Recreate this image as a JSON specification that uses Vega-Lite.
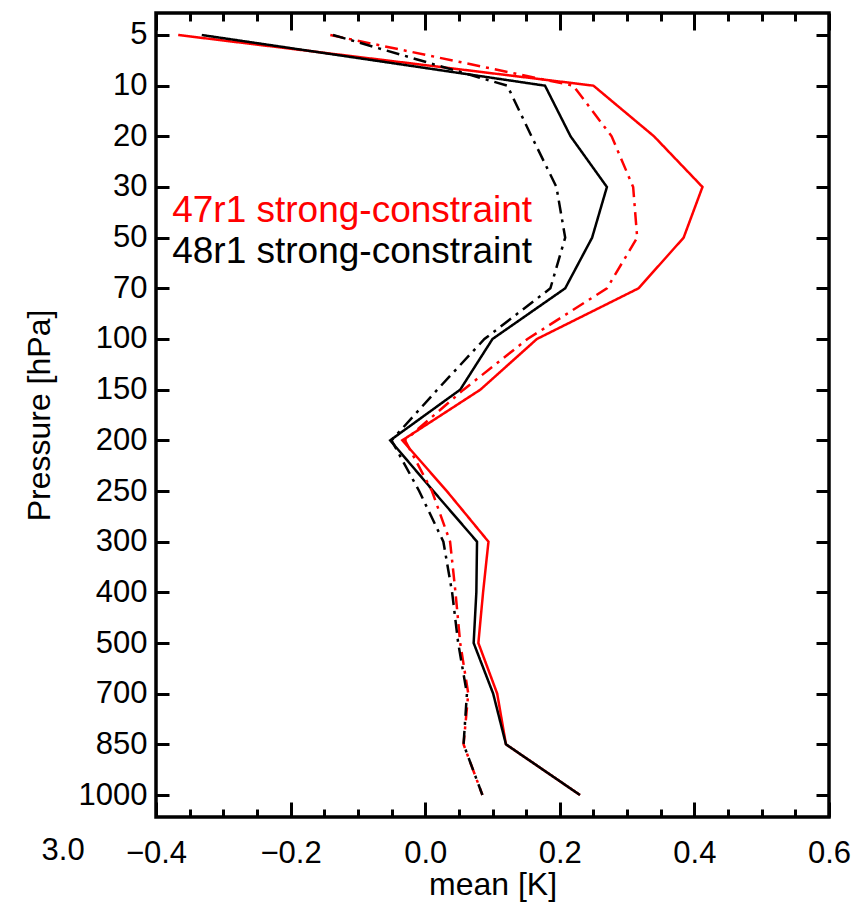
{
  "$schema": "https://vega.github.io/schema/vega-lite/v6.json",
  "width": 673,
  "height": 804,
  "autosize": {"type": "none"},
  "padding": {"left": 156, "top": 13, "right": 25, "bottom": 86},
  "background": "white",
  "config": {
    "view": {"stroke": "black", "strokeWidth": 3.5},
    "font": "Liberation Sans",
    "axis": {
      "domain": false, "grid": false, "zindex": 1,
      "labelFont": "Liberation Sans", "titleFont": "Liberation Sans",
      "labelColor": "black", "titleColor": "black", "tickColor": "black",
      "tickWidth": 3, "titleFontWeight": "normal", "labelFontSize": 31, "titleFontSize": 32
    }
  },
  "datasets": {
    "profiles": [
      {"model": "47r1", "style": "solid", "p": 5, "mean": -0.367},
      {"model": "47r1", "style": "solid", "p": 10, "mean": 0.25},
      {"model": "47r1", "style": "solid", "p": 20, "mean": 0.34},
      {"model": "47r1", "style": "solid", "p": 30, "mean": 0.412},
      {"model": "47r1", "style": "solid", "p": 50, "mean": 0.384},
      {"model": "47r1", "style": "solid", "p": 70, "mean": 0.317},
      {"model": "47r1", "style": "solid", "p": 100, "mean": 0.166},
      {"model": "47r1", "style": "solid", "p": 150, "mean": 0.082},
      {"model": "47r1", "style": "solid", "p": 200, "mean": -0.034},
      {"model": "47r1", "style": "solid", "p": 250, "mean": 0.032},
      {"model": "47r1", "style": "solid", "p": 300, "mean": 0.094},
      {"model": "47r1", "style": "solid", "p": 400, "mean": 0.086},
      {"model": "47r1", "style": "solid", "p": 500, "mean": 0.079},
      {"model": "47r1", "style": "solid", "p": 700, "mean": 0.107},
      {"model": "47r1", "style": "solid", "p": 850, "mean": 0.12},
      {"model": "47r1", "style": "solid", "p": 1000, "mean": 0.23},
      {"model": "48r1", "style": "solid", "p": 5, "mean": -0.332},
      {"model": "48r1", "style": "solid", "p": 10, "mean": 0.178},
      {"model": "48r1", "style": "solid", "p": 20, "mean": 0.216},
      {"model": "48r1", "style": "solid", "p": 30, "mean": 0.27},
      {"model": "48r1", "style": "solid", "p": 50, "mean": 0.248},
      {"model": "48r1", "style": "solid", "p": 70, "mean": 0.208},
      {"model": "48r1", "style": "solid", "p": 100, "mean": 0.1},
      {"model": "48r1", "style": "solid", "p": 150, "mean": 0.052},
      {"model": "48r1", "style": "solid", "p": 200, "mean": -0.052},
      {"model": "48r1", "style": "solid", "p": 250, "mean": 0.012},
      {"model": "48r1", "style": "solid", "p": 300, "mean": 0.077},
      {"model": "48r1", "style": "solid", "p": 400, "mean": 0.076},
      {"model": "48r1", "style": "solid", "p": 500, "mean": 0.072},
      {"model": "48r1", "style": "solid", "p": 700, "mean": 0.101},
      {"model": "48r1", "style": "solid", "p": 850, "mean": 0.12},
      {"model": "48r1", "style": "solid", "p": 1000, "mean": 0.23},
      {"model": "47r1", "style": "dash-dot", "p": 5, "mean": -0.141},
      {"model": "47r1", "style": "dash-dot", "p": 10, "mean": 0.22},
      {"model": "47r1", "style": "dash-dot", "p": 20, "mean": 0.277},
      {"model": "47r1", "style": "dash-dot", "p": 30, "mean": 0.309},
      {"model": "47r1", "style": "dash-dot", "p": 50, "mean": 0.315},
      {"model": "47r1", "style": "dash-dot", "p": 70, "mean": 0.27},
      {"model": "47r1", "style": "dash-dot", "p": 100, "mean": 0.152},
      {"model": "47r1", "style": "dash-dot", "p": 150, "mean": 0.057},
      {"model": "47r1", "style": "dash-dot", "p": 200, "mean": -0.03},
      {"model": "47r1", "style": "dash-dot", "p": 250, "mean": 0.01},
      {"model": "47r1", "style": "dash-dot", "p": 300, "mean": 0.037},
      {"model": "47r1", "style": "dash-dot", "p": 400, "mean": 0.045},
      {"model": "47r1", "style": "dash-dot", "p": 500, "mean": 0.052},
      {"model": "47r1", "style": "dash-dot", "p": 700, "mean": 0.064},
      {"model": "47r1", "style": "dash-dot", "p": 850, "mean": 0.057},
      {"model": "47r1", "style": "dash-dot", "p": 1000, "mean": 0.085},
      {"model": "48r1", "style": "dash-dot", "p": 5, "mean": -0.137},
      {"model": "48r1", "style": "dash-dot", "p": 10, "mean": 0.122},
      {"model": "48r1", "style": "dash-dot", "p": 20, "mean": 0.158},
      {"model": "48r1", "style": "dash-dot", "p": 30, "mean": 0.195},
      {"model": "48r1", "style": "dash-dot", "p": 50, "mean": 0.208},
      {"model": "48r1", "style": "dash-dot", "p": 70, "mean": 0.186},
      {"model": "48r1", "style": "dash-dot", "p": 100, "mean": 0.088},
      {"model": "48r1", "style": "dash-dot", "p": 150, "mean": 0.018},
      {"model": "48r1", "style": "dash-dot", "p": 200, "mean": -0.05},
      {"model": "48r1", "style": "dash-dot", "p": 250, "mean": -0.009},
      {"model": "48r1", "style": "dash-dot", "p": 300, "mean": 0.027},
      {"model": "48r1", "style": "dash-dot", "p": 400, "mean": 0.04},
      {"model": "48r1", "style": "dash-dot", "p": 500, "mean": 0.049},
      {"model": "48r1", "style": "dash-dot", "p": 700, "mean": 0.062},
      {"model": "48r1", "style": "dash-dot", "p": 850, "mean": 0.057},
      {"model": "48r1", "style": "dash-dot", "p": 1000, "mean": 0.085}
    ]
  },
  "resolve": {"axis": {"x": "independent", "y": "independent"}},
  "layer": [
    {
      "mark": {"type": "rule", "color": "black", "strokeWidth": 2.5},
      "encoding": {
        "x": {"datum": 0, "type": "quantitative", "scale": {"domain": [-0.4, 0.6], "nice": false, "zero": false}, "axis": null}
      }
    },
    {
      "data": {"name": "profiles"},
      "mark": {"type": "line", "strokeWidth": 2.5},
      "encoding": {
        "x": {
          "field": "mean", "type": "quantitative",
          "scale": {"domain": [-0.4, 0.6], "nice": false, "zero": false},
          "axis": {
            "orient": "bottom", "title": "mean [K]", "format": ".1f",
            "values": [-0.4, -0.2, 0, 0.2, 0.4, 0.6],
            "offset": -15, "tickSize": 15,
            "labelPadding": 21, "labelFlush": false, "labelOverlap": false, "titlePadding": 1
          }
        },
        "y": {
          "field": "p", "type": "ordinal",
          "scale": {"type": "point", "domain": [5, 10, 20, 30, 50, 70, 100, 150, 200, 250, 300, 400, 500, 700, 850, 1000], "padding": 0.434},
          "axis": {
            "orient": "left", "title": "Pressure [hPa]",
            "offset": -13, "tickSize": 13,
            "labelPadding": 9, "titlePadding": 22
          }
        },
        "color": {"field": "model", "type": "nominal", "scale": {"domain": ["47r1", "48r1"], "range": ["#ff0000", "#000000"]}, "legend": null},
        "strokeDash": {"field": "style", "type": "nominal", "scale": {"domain": ["solid", "dash-dot"], "range": [[1, 0], [13, 6, 3, 6]]}, "legend": null},
        "order": {"field": "p", "type": "quantitative"}
      }
    },
    {
      "data": {"values": [{"label": "47r1 strong-constraint", "x": -0.376, "p": 30}]},
      "mark": {"type": "text", "align": "left", "baseline": "alphabetic", "dy": 35, "fontSize": 37, "color": "#ff0000"},
      "encoding": {
        "text": {"field": "label"},
        "x": {
          "field": "x", "type": "quantitative",
          "scale": {"domain": [-0.4, 0.6], "nice": false, "zero": false},
          "axis": {
            "orient": "top", "title": null, "labels": false,
            "values": [-0.4, -0.2, 0, 0.2, 0.4, 0.6],
            "offset": -17, "tickSize": 17
          }
        },
        "y": {
          "field": "p", "type": "ordinal",
          "scale": {"type": "point", "domain": [5, 10, 20, 30, 50, 70, 100, 150, 200, 250, 300, 400, 500, 700, 850, 1000], "padding": 0.434},
          "axis": {
            "orient": "right", "title": null, "labels": false,
            "offset": -13, "tickSize": 13
          }
        }
      }
    },
    {
      "data": {"values": [{"label": "48r1 strong-constraint", "x": -0.376, "p": 50}]},
      "mark": {"type": "text", "align": "left", "baseline": "alphabetic", "dy": 25, "fontSize": 37, "color": "#000000"},
      "encoding": {
        "text": {"field": "label"},
        "x": {
          "field": "x", "type": "quantitative",
          "axis": {
            "orient": "bottom", "title": null, "labels": false,
            "values": [-0.35, -0.3, -0.25, -0.15, -0.1, -0.05, 0.05, 0.1, 0.15, 0.25, 0.3, 0.35, 0.45, 0.5, 0.55],
            "offset": -8, "tickSize": 8
          }
        },
        "y": {"field": "p", "type": "ordinal", "axis": null}
      }
    },
    {
      "data": {"values": [{"label": "3.0", "x": -0.538, "p": 1000}]},
      "mark": {"type": "text", "align": "center", "baseline": "alphabetic", "dy": 65, "fontSize": 31, "color": "#000000"},
      "encoding": {
        "text": {"field": "label"},
        "x": {
          "field": "x", "type": "quantitative",
          "axis": {
            "orient": "top", "title": null, "labels": false,
            "values": [-0.35, -0.3, -0.25, -0.15, -0.1, -0.05, 0.05, 0.1, 0.15, 0.25, 0.3, 0.35, 0.45, 0.5, 0.55],
            "offset": -8, "tickSize": 8
          }
        },
        "y": {"field": "p", "type": "ordinal", "axis": null}
      }
    }
  ]
}
